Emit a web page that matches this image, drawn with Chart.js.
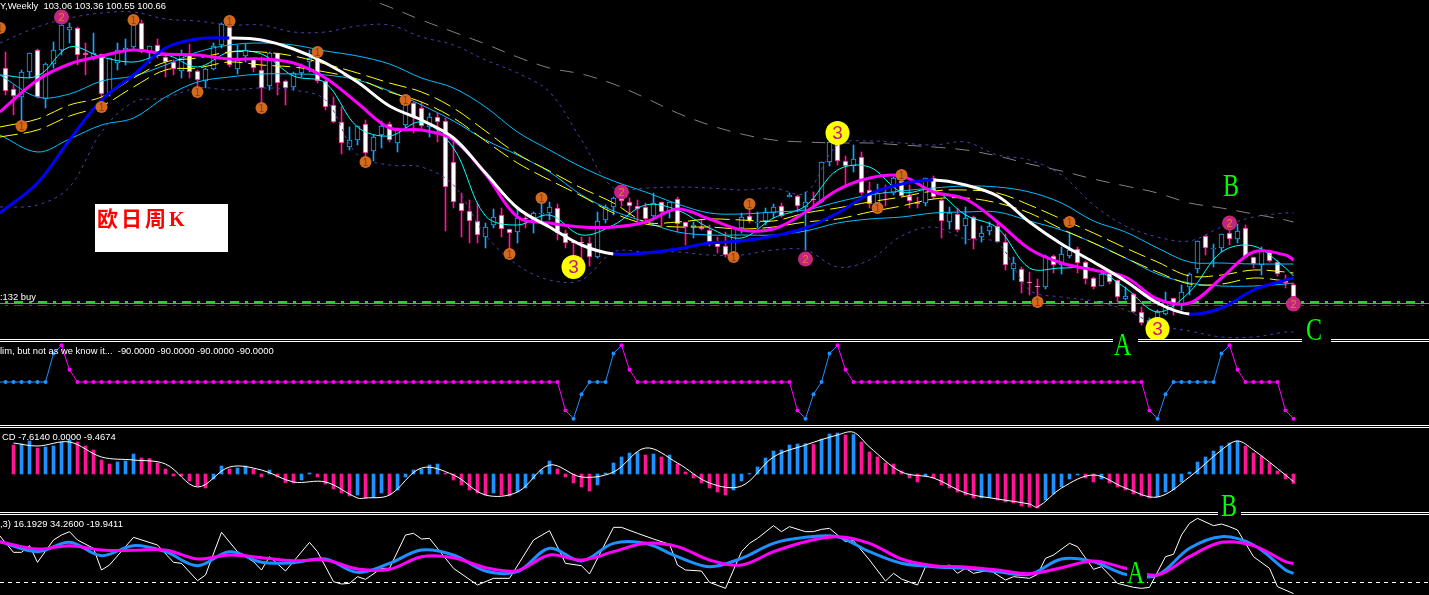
<!DOCTYPE html>
<html>
<head>
<meta charset="utf-8">
<title>EURJPY Weekly</title>
<script src="https://cdn.jsdelivr.net/npm/chart.js@4"></script>
<style>
  html, body { margin: 0; padding: 0; background: #000; overflow: hidden; }
  #wrap { position: relative; width: 1429px; height: 595px; background: #000; overflow: hidden; }
  canvas { position: absolute; left: 0; display: block; }
  .rule { position: absolute; left: 0; width: 1429px; height: 1px; background: #fff; }
  .cap { position: absolute; color: #fff; font: 9.4px "Liberation Sans", sans-serif; white-space: pre; line-height: 12px; }
  .gap { position: absolute; background: #000; }
  .wave { position: absolute; color: #00ff00; font: 24px "Liberation Serif", serif; line-height: 24px; transform: scaleY(1.3); transform-origin: top left; }
  #note { position: absolute; left: 95px; top: 204px; width: 133px; height: 48px; background: #fff; }
  #note span { position: absolute; left: 2px; top: 0; color: #f00; font: bold 21px "Noto Sans CJK SC", sans-serif; letter-spacing: 3px; line-height: 27px; white-space: nowrap; }
  #note b { font: bold 20px "Liberation Serif", serif; }
</style>
</head>
<body>
<div id="wrap">
  <canvas id="mainChart" width="1429" height="339" style="top:0"></canvas>
  <canvas id="cciChart" width="1429" height="83" style="top:342px"></canvas>
  <canvas id="macdChart" width="1429" height="84" style="top:428px"></canvas>
  <canvas id="stochChart" width="1429" height="80" style="top:515px"></canvas>

  <div class="rule" style="top:339px"></div><div class="rule" style="top:341px"></div>
  <div class="rule" style="top:425px"></div><div class="rule" style="top:427px"></div>
  <div class="rule" style="top:512px"></div><div class="rule" style="top:514px"></div>

  <div class="cap" style="left:0;top:0">Y,Weekly  103.06 103.36 100.55 100.66</div>
  <div class="cap" style="left:0;top:291px">:132 buy</div>
  <div class="cap" style="left:0;top:345px">lim, but not as we know it...  -90.0000 -90.0000 -90.0000 -90.0000</div>
  <div class="cap" style="left:2px;top:431px">CD -7.6140 0.0000 -9.4674</div>
  <div class="cap" style="left:0;top:518px">,3) 16.1929 34.2600 -19.9411</div>

  <div id="note"><span>欧日周<b>K</b></span></div>

  <div class="gap" style="left:1113px;top:337px;width:25px;height:6px"></div>
  <div class="gap" style="left:1302px;top:337px;width:29px;height:6px"></div>
  <div class="gap" style="left:1218px;top:510px;width:23px;height:6px"></div>
  <div class="gap" style="left:1127px;top:560px;width:20px;height:24px"></div>
  <div class="wave" style="left:1114px;top:329px">A</div>
  <div class="wave" style="left:1223px;top:170px">B</div>
  <div class="wave" style="left:1306px;top:314px">C</div>
  <div class="wave" style="left:1221px;top:490px">B</div>
  <div class="wave" style="left:1127px;top:557px">A</div>
</div>

<script>
// weekly candles, left to right
const barOpen = [
  146.4,142.2,140.6,145.6,150,140.2,147.2,150,154,154.4,
  149.4,148.6,149.2,141.4,147.4,150,150.6,155.4,149.6,151,
  148.6,147.6,145.8,149,145.8,143.8,146.2,151,154.6,146.2,
  148.8,148.2,146,142.8,149.4,143.8,142.6,145.4,147.6,148.2,
  143.8,139,135.6,130.6,132,135.2,129.8,133,135.2,131.4,
  135,139.4,138.4,134.6,136.6,135.8,127.6,119.4,117.8,115.8,
  112.6,115,117,114.2,113.6,116.4,115.6,117.2,117.4,118.4,
  113.4,111.6,111.6,111.4,108.6,116,118.6,120.4,119.6,118.8,
  118.6,116.8,119.6,117.6,120.2,115.6,114.6,114.6,114,111.4,
  110.8,109,114.4,116.8,115.4,115.8,117.4,118.8,120.6,120.8,
  118.6,120.2,119.6,127.6,131.4,127.8,126.8,128.6,122,119.4,
  121.6,121.4,123.8,120.8,119.6,119.4,124.4,120,115.6,117.2,
  114.8,116.6,112.6,113.8,114.8,111.6,106.2,106.2,103.6,102.8,
  102.6,108.8,107,108.8,110.2,107.6,104.4,102.8,105.4,104,
  100.2,101.2,97.6,95.4,96.4,97.2,100.4,99,102.6,106.2,
  112.8,110.2,110.4,113.4,112.2,114.4,108.6,107,109.6,107.6,103.8,103.06];
const barClose = [
  141.8,140.8,145.6,149.4,140.6,147.2,150,155,154.6,149,
  149,149.4,141.2,148.4,150,150.4,155.4,149.6,150.8,149.4,
  147.6,146.2,149,145.6,144,146.2,150.8,155.2,147,148,
  150,146.4,142.4,149.4,143.4,142.4,145.4,147,148.4,143.8,
  138.6,135.6,131.4,132,134.8,129.4,132.6,134.8,132,134.2,
  139.4,136.6,134.8,136.6,135.6,122.6,119.6,117.8,115.8,113,
  114.6,116.6,114.2,113.4,116.4,116.2,117.4,117.4,118.6,113.4,
  111.4,111.4,111.4,108.6,115.8,118.6,120.4,119.8,118.8,118.2,
  116.2,119.4,117.6,119.6,115.2,114.6,115,114.2,111.6,110.6,
  109,114.6,116.6,115.8,115.6,117.6,118.6,116.8,121,118.8,
  119.6,120,127.6,131.6,127.8,126.8,128.2,121.4,119.2,121.4,
  121.4,124.4,120.8,119.8,119.2,124.4,120.6,115.8,117.4,114,
  116.4,112.2,113.4,114.8,111.6,107,107.4,103.6,103.4,102.6,
  108.8,107,109.2,110,107.4,104.2,102.6,105.2,103.6,100.6,
  100.8,97.6,95.4,96,97.6,99.6,99.2,101.6,105.2,111.8,
  110.4,110.4,113.2,112.2,113.8,108.6,107.2,110,107.8,105.2,103.4,100.66];
const barHigh = [
  149.6,143,146,149.4,150.2,147.4,151.6,155,155.4,154.6,
  151.4,153.4,149.2,148.4,151.4,152.2,155.6,156,150.8,152.2,
  149,148,150,151.2,146,146.4,151.4,155.4,156,151,
  151.2,148.4,148.6,149.6,149.4,144,145.6,147.2,150,150,
  144,140.6,138.6,134.6,134.8,136,133,135.8,135.6,134.4,
  140,139.6,139.6,137.4,137.4,136.4,131.6,121.4,120,119.4,
  115.4,118.2,118.4,114.2,118,117.6,117.6,121,119.6,119.2,
  114,111.6,112.6,112.6,117.6,119,120.6,121.4,120.4,120,
  119.4,121.4,119.6,119.6,120.6,115.6,115.6,116,115,112.6,
  113.6,114.6,117.4,118,117.6,118.4,119.2,119.4,121.4,121,
  121.6,121.6,127.6,132,133,128.8,131,129.6,123.6,123.2,
  123,124.6,125.4,123,120.6,124.4,124.8,120.2,118.6,118.4,
  118.6,116.8,114.8,115.6,115.4,113.2,108.6,106.6,105.6,104.2,
  109,109,110.6,113.6,110.6,107.8,104.6,106,105.6,104,
  102.6,101.4,98.6,96.4,98,101.6,100.4,103,105.4,111.8,
  113,111.2,113.2,114,115.2,115,108.6,110.6,110,108,105,103.36];
const barLow = [
  141,137,135,144.4,140.4,138.4,146.4,149,151.4,147,
  145,148,140,140.8,146,147,150,149.4,147.4,148.4,
  144.6,145,144.4,144.4,142.4,142.4,146,150.4,146.6,145.2,
  147.6,145.6,139.6,142,141,139,142,144.6,145.6,143.4,
  138,135.4,129.2,130,131,128.8,127.8,130.4,131.6,129.6,
  134.4,133.4,134,132.6,131.6,113.8,118.4,112.6,111.4,111.4,
  110.4,114.4,112.6,108.6,111.4,114.4,113.4,115.6,116,112,
  110.4,108.6,108,106.8,108.4,115.4,117,118.8,117,115.6,
  115.6,116,114.6,116.4,113.6,111,112.4,114,110.8,109.4,
  108.6,108.4,113.4,115.4,114.4,115,116.4,116.6,120.6,117.6,
  110,118.4,119.4,126.8,127,123,125.6,121,118.4,118,
  118.8,121,120.6,118.4,118.4,118.8,120.2,112.4,114.2,113.6,
  111.2,110.2,111.6,113,111.6,106,104,101.4,101,100,
  102.2,105.4,105.2,108.4,105.4,103.2,102.2,102.8,103.2,99.6,
  100,97.4,95,94,95.4,97,97,98,101,105.4,
  109,106.6,109.6,111,111.4,108.4,106.4,105,107.6,104.8,102.4,100.55];

// main window line readings: left edge, then every fourth bar, then the last one
const lineBars = [-0.7,4,8,12,16,20,24,28,32,36,40,44,48,52,56,60,64,68,72,76,80,84,88,92,96,100,104,108,112,116,120,124,128,132,136,140,144,148,152,156,160,161];
const trendLine = [117.4,123.4,132,140,145,150.4,152.2,152.4,152,150.2,147.4,143.6,138.8,136,132.4,125.4,118.4,114.6,111,109.2,109.4,110.2,111.4,111.8,112.8,114.4,117.4,121.2,123.2,124,123,120.8,115.6,111.2,107.6,103.8,99.4,97.2,98.4,102,104,104.4];
const pinkLine = [137.6,144,147.2,148.8,150,149.2,149,148.2,148.2,147.4,144.4,139.4,134.4,134,132,125.2,116.6,115.4,114.6,114.6,115.6,118.2,116.2,114,114.2,117.6,122,124.4,124.8,121.6,120.2,115.6,110.2,107.4,106,104.6,100.2,99.4,104.4,109.6,109,108];
const bandUpper = [145,140.6,141.2,143.8,144.8,147,149.6,151,151.4,151,149.8,148.8,147.2,144.4,142.4,138.6,133.6,130,126.6,123.8,121.6,119.2,117.4,117.2,117.6,118,119.6,121,121.8,122.4,122.8,122.6,121.6,119.4,115.8,113.6,110.4,107.6,107.4,107.2,107.2,107.2];
const bandLower = [133,129.6,132.2,135,136.4,140.6,143.6,144.6,145.2,145.2,145,144,141.8,139,135.8,132,129,125.6,121,117.8,115.6,113.6,113,113,113,113.8,115.4,116.2,116.6,117.4,117.6,117.6,115.8,114,111.4,108.4,105.2,103.4,102.8,102.8,103.2,103.4];
const fastLine = [145,144.8,150.6,148.6,147.6,149,146.6,149.6,149.2,144.8,143.4,134.6,132.8,135.6,130.4,116.8,115,117,113,115,119,118,114.4,112.4,116.4,118.8,126,126.6,121.6,122,117,114.4,106.4,106.4,106.2,102.4,97.6,101.6,109.6,110.8,106.4,104.8];
const yellowUpper = [134.6,136.2,139,140.6,144.4,147.6,148.4,149.6,149.6,148.8,147.2,145.4,143.4,141.6,138.4,133.8,129.2,125.8,122.4,119.4,115.6,115.6,116.2,116,115.8,117.4,118.4,119.6,120.6,121.8,122,121.4,119,116.2,113.4,110.4,107.6,104.8,105,106,105.6,105.4];
const yellowLower = [132.6,134,136.8,138.8,142.6,146,146.4,147.6,147,146.6,145.6,144.2,141.6,139.6,136.4,131.8,127.4,124,120.8,117.4,115.2,114.6,114.6,114.2,114.6,115.6,116.2,117.6,118.8,120.2,120.4,119.4,117.4,114.2,111.4,108.4,105.6,103.2,103.2,104.4,103.8,103.6];
const bollUpper = [151.4,154.6,156.4,157.4,157.6,156.2,155.8,155,155,153.6,153.6,154.8,155,152.6,151,148,145.4,141.6,132,122.4,122.4,122.6,122.4,122,122.4,121.4,131,131.8,131.4,131,131.6,129,128,125,119,114.8,112.6,111.8,114.6,116.6,117.4,117.4];
const bollLower = [118.6,119,122.6,133.6,139.6,140.4,142.4,142,142.4,142,140,129,127,126.6,123,113,107,104,104,109.6,109.6,109.6,109,109,110,110,106.6,108,112.8,114.6,112.2,111.4,102,100.6,99.8,98,95,93.8,92.6,92.6,93.6,93.6];
const greyLine = [null,null,null,null,null,null,null,null,null,null,null,161,158.6,156,153.6,151.2,148.6,146.4,145.2,143.2,140.4,137.4,135,133.2,132,131.6,131.4,131.4,131,130.6,130,128.8,127.2,125.8,124.2,122.8,121.4,119.4,118.4,117.2,116,115.6];

// order levels near the bottom of the main window
const levelBuy = 99.3;
const levelGreen = 99.6;
const levelRed = 98.9;

// wave count markers
const oneBars = [-0.7,2,12,16,24,28,32,39,45,50,63,67,91,93,109,112,129,133];
const onePrices = [154.4,134.8,138.6,156,141.6,155.8,138.4,149.6,127.6,140,109.2,120.4,108.6,119.2,118.4,125,99.6,115.6];
const twoBars = [7,77,100,153,161];
const twoPrices = [156.6,121.6,108.2,115.4,99.2];
const threeBars = [71,104,144];
const threePrices = [106.6,133.4,94.2];

// second window, one value per bar
const cciValues = [
  0,0,0,0,0,0,70,90,30,0,
  0,0,0,0,0,0,0,0,0,0,
  0,0,0,0,0,0,0,0,0,0,
  0,0,0,0,0,0,0,0,0,0,
  0,0,0,0,0,0,0,0,0,0,
  0,0,0,0,0,0,0,0,0,0,
  0,0,0,0,0,0,0,0,0,0,
  -70,-90,-30,0,0,0,70,90,30,0,
  0,0,0,0,0,0,0,0,0,0,
  0,0,0,0,0,0,0,0,0,-70,
  -90,-30,0,70,90,30,0,0,0,0,
  0,0,0,0,0,0,0,0,0,0,
  0,0,0,0,0,0,0,0,0,0,
  0,0,0,0,0,0,0,0,0,0,
  0,0,0,-70,-90,-30,0,0,0,0,
  0,0,70,90,30,0,0,0,0,0,
  -70,-90];

// MACD histogram, one value per bar
const macdBars = [
  null,29,30,33,26,27,28,32,34,32,
  28,24,14,10,12,13,20,16,15.5,11,
  5,-2,-2,-7,-12,-14,-5,8,5,6,
  8,5,-3,4,-3,-8.5,-9,-6,1,-3,
  -10,-15,-19,-22,-21,-24,-23.6,-19,-21,-16,
  -3,4,5,9,10,1,-6,-11,-16,-19,
  -21,-19,-21,-22,-18,-14,-5,4,13,5,
  -3,-9,-13,-17,-11,1,11,17,21,21.5,
  19,20,17,19,10,2,-4,-9,-14,-18,
  -21,-16,-7,0.5,7,16,23,24,29,30,
  30.3,29.5,35,40,41,39,39.5,32,22,17,
  11,10,3,-4,-8,-2,-4,-11,-14,-18,
  -21,-24,-23.9,-23.5,-26,-28,-29,-32,-33,-34,
  -26,-20,-13,-5,-1,-4,-8,-5,-9,-13,
  -16,-20,-22,-24,-23,-18,-16,-8,2,12,
  17,23,28,31,33,28,21,18,11,3,
  -5,-9.47];
const macdLineBars = [1,4,8,12,16,20,24,28,32,36,40,44,45,48,52,56,60,64,68,72,76,80,84,88,92,96,100,104,106,108,112,116,120,124,128,129,132,136,140,144,148,152,154,156,160,161];
const macdLine = [31,28,32,17,14,10,-13,7,4,-8,-8,-24,-24,-21,6,-1,-21,-18,9,-3,2,26,11,-9,-12,17,29,39,41.7,27,2,-4,-19,-25,-30,-33,-14,-1,-14,-23,-3,24,33,24,-1,-7.61];

// bottom window
const stochWhiteBars = [-0.7,1,2,3,4,6,7,8,9,11,12,13,16,19,21,22,24,25,27,29,31,32,33,35,38,39,41,42,43,44,45,47,48,50,51,52,53,56,59,61,63,66,68,70,72,73,76,77,79,81,83,84,85,87,88,90,92,93,94,96,97,98,100,101,102,103,104,105,106,108,110,111,112,114,115,117,118,119,120,121,123,125,126,128,129,130,131,133,134,136,137,139,141,142,143,145,146,147,148,149,151,152,153,154,156,158,159,161];
const stochWhite = [83.7,54.3,54.3,66.3,36.3,76.5,85.5,91.5,76.5,61.5,22.5,31.5,81.3,67.5,36.3,34.5,3.3,13.5,90.3,55.5,37.5,22.5,46.5,20.7,72.3,55.5,1.5,-2.7,-1.5,10.5,5.7,25.5,25.5,85.5,88.5,78.3,79.5,25.5,-4.5,7.5,7.5,76.5,93.3,34.5,30.3,15.3,99.3,99.3,88.5,78.3,68.7,31.5,22.5,20.7,0.3,-10.5,55.5,70.5,79.5,102.3,91.5,100.5,91.5,91.5,95.7,97.5,85.5,73.5,75.3,40.5,2.7,16.5,6.3,-4.5,28.5,28.5,31.5,16.5,25.5,16.5,22.5,4.5,10.5,7.5,14.7,43.5,49.5,70.5,64.5,23.7,28.5,-1.5,-8.7,-10.5,-8.7,46.5,50.7,85.5,106.5,115.5,102.3,105.3,100.5,94.5,46.5,25.5,-7.5,-19.94];
const stochBlue = [73.5,55.5,72.3,48.3,66.3,55.5,30.3,55.5,36.3,35.7,42.3,18.3,34.5,58.5,49.5,20.7,19.5,61.5,38.7,70.5,70.5,46.5,28.5,43.5,70.5,81.3,82.5,55.5,34.5,28.5,25.5,19.5,14.7,42.3,37.5,14.7,13.5,61.5,82.5,67.5,22.5,16.19];
const stochPink = [73.5,60.3,66.3,58.5,57.9,58.5,42.3,49.5,44.7,39.3,40.5,24.3,23.7,46.5,44.7,26.7,21.3,49.5,40.5,55.5,70.5,64.5,40.5,31.5,55.5,73.5,82.5,70.5,42.3,30.3,27.9,22.5,15.9,26.7,38.7,25.5,13.5,46.5,72.3,66.3,37.5,34.26];
const stochZero = 0;

const BLUE = '#1E90FF';
const CANDLE_BLUE = '#1E9FFF';
const PINK = '#FF1493';
const MAGENTA = '#FF00FF';

// bar i sits at pixel 5.5 + 8i on every window
const xMin = -5.5 / 8;
const xMax = xMin + 1429 / 8;

function xy(bars, vals) {
  return bars.map((b, i) => ({ x: b, y: vals[i] }));
}

function makeOptions(yMin, yMax) {
  return {
    responsive: false,
    animation: false,
    devicePixelRatio: 1,
    layout: { padding: 0, autoPadding: false },
    plugins: { legend: { display: false }, tooltip: { enabled: false } },
    scales: {
      x: { type: 'linear', min: xMin, max: xMax, display: false, offset: false },
      y: { type: 'linear', min: yMin, max: yMax, display: false }
    }
  };
}

function lineSet(bars, vals, color, width, extra) {
  return Object.assign({
    type: 'line', data: xy(bars, vals), borderColor: color, borderWidth: width,
    pointRadius: 0, tension: 0.35, fill: false, order: 5
  }, extra);
}

function levelSet(level, color, width, extra) {
  return Object.assign({
    type: 'line', data: [{ x: xMin, y: level }, { x: xMax, y: level }], borderColor: color,
    borderWidth: width, pointRadius: 0, order: 20
  }, extra);
}

function candleBars(isBody, wantUp) {
  const out = [];
  barOpen.forEach((o, i) => {
    const up = barClose[i] > o;
    if (up !== wantUp) return;
    out.push({ x: i, y: isBody ? [o, barClose[i]] : [barLow[i], barHigh[i]] });
  });
  return out;
}

function candleSet(isBody, wantUp) {
  const color = wantUp ? CANDLE_BLUE : PINK;
  return {
    type: 'bar', grouped: false, data: candleBars(isBody, wantUp),
    barThickness: isBody ? 5 : 1,
    backgroundColor: isBody ? (wantUp ? '#000' : '#fff') : color,
    borderColor: color, borderWidth: isBody ? 1 : 0, borderSkipped: false,
    order: isBody ? 10 : 11
  };
}

function markSet(bars, prices, color, radius) {
  return {
    type: 'line', data: xy(bars, prices), showLine: false, pointRadius: radius,
    pointBackgroundColor: color, pointBorderWidth: 0, order: 1, clip: false
  };
}

// digits inside the wave markers
const markDigits = {
  id: 'markDigits',
  afterDatasetsDraw(chart) {
    const { ctx, scales } = chart;
    const put = (bars, prices, txt, color, font) => {
      ctx.fillStyle = color;
      ctx.font = font;
      ctx.textAlign = 'center';
      ctx.textBaseline = 'middle';
      bars.forEach((b, i) => ctx.fillText(txt, scales.x.getPixelForValue(b), scales.y.getPixelForValue(prices[i]) + 1));
    };
    ctx.save();
    put(oneBars, onePrices, '1', '#8B3A10', '10px "Liberation Sans"');
    put(twoBars, twoPrices, '2', '#E8801E', '11px "Liberation Sans"');
    put(threeBars, threePrices, '3', '#C71585', '19px "Liberation Sans"');
    ctx.restore();
  }
};

new Chart(document.getElementById('mainChart'), {
  type: 'line',
  data: {
    datasets: [
      levelSet(levelGreen, '#32CD32', 2, { borderDash: [9, 6, 3, 6], borderDashOffset: 10 }),
      levelSet(levelRed, '#FF0000', 1, { borderDash: [9, 6, 3, 6], borderDashOffset: 10 }),
      levelSet(levelBuy, '#8080A8', 1),
      candleSet(false, true), candleSet(false, false),
      candleSet(true, true), candleSet(true, false),
      lineSet(lineBars, greyLine, '#808080', 1, { borderDash: [14, 10] }),
      lineSet(lineBars, bollUpper, '#4B3FA8', 1, { borderDash: [3, 4] }),
      lineSet(lineBars, bollLower, '#4B3FA8', 1, { borderDash: [3, 4] }),
      lineSet(lineBars, yellowUpper, '#FFFF00', 1, { borderDash: [18, 6] }),
      lineSet(lineBars, yellowLower, '#FFFF00', 1, { borderDash: [18, 6] }),
      lineSet(lineBars, bandUpper, '#00BFFF', 1),
      lineSet(lineBars, bandLower, '#00BFFF', 1),
      lineSet(lineBars, fastLine, '#00FFFF', 1),
      lineSet(lineBars, pinkLine, MAGENTA, 3, { order: 3 }),
      lineSet(lineBars, trendLine, '#0000FF', 3, {
        order: 2,
        segment: { borderColor: c => (c.p1.parsed.y >= c.p0.parsed.y ? '#0000FF' : '#FFFFFF') }
      }),
      markSet(oneBars, onePrices, '#D2691E', 6),
      markSet(twoBars, twoPrices, '#C2267E', 7.5),
      markSet(threeBars, threePrices, '#FFFF00', 12)
    ]
  },
  options: makeOptions(92.2, 160),
  plugins: [markDigits]
});

// rising steps are blue, falling ones magenta, flat ones keep the last colour
const cciBars = cciValues.map((v, i) => i);
const cciColors = [];
let cciColor = BLUE;
cciValues.forEach((v, i) => {
  const next = cciValues[i + 1];
  if (next > v) cciColor = BLUE;
  if (next < v) cciColor = MAGENTA;
  cciColors.push(cciColor);
});

new Chart(document.getElementById('cciChart'), {
  type: 'line',
  data: {
    datasets: [
      {
        data: xy(cciBars, cciValues), borderWidth: 1, tension: 0, pointRadius: 2, pointBorderWidth: 0,
        pointBackgroundColor: cciColors,
        segment: { borderColor: c => cciColors[c.p0DataIndex] }
      },
      // the line runs on to the left edge before the first dot
      { data: [{ x: xMin, y: cciValues[0] }, { x: 0, y: cciValues[0] }], borderColor: BLUE, borderWidth: 1, pointRadius: 0 }
    ]
  },
  options: makeOptions(-105.65, 98.28)
});

new Chart(document.getElementById('macdChart'), {
  type: 'line',
  data: {
    datasets: [
      lineSet(macdLineBars, macdLine, '#FFFFFF', 1, { order: 1 }),
      {
        type: 'bar', grouped: false, order: 2, barThickness: 3,
        data: xy(cciBars, macdBars),
        backgroundColor: macdBars.map((v, i) => (i > 1 && v > macdBars[i - 1] ? BLUE : PINK))
      }
    ]
  },
  options: makeOptions(-38, 46)
});

new Chart(document.getElementById('stochChart'), {
  type: 'line',
  data: {
    datasets: [
      levelSet(stochZero, '#FFFFFF', 1, { borderDash: [4, 4] }),
      lineSet(stochWhiteBars, stochWhite, '#FFFFFF', 1, { tension: 0, order: 4 }),
      lineSet(lineBars, stochBlue, BLUE, 3, { order: 3 }),
      lineSet(lineBars, stochPink, MAGENTA, 3, { order: 2 })
    ]
  },
  options: makeOptions(-22.5, 121.5)
});
</script>
</body>
</html>
